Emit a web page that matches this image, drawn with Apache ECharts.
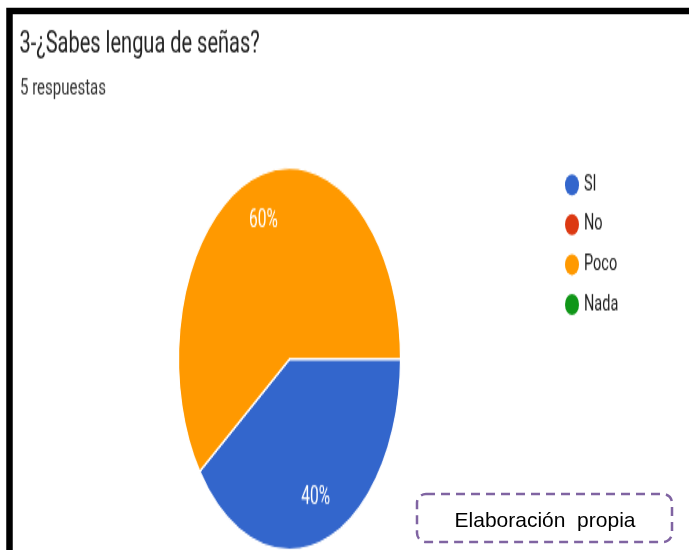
<!DOCTYPE html>
<html>
<head>
<meta charset="utf-8">
<script src="https://cdn.jsdelivr.net/npm/echarts@6/dist/echarts.min.js"></script>
<style>
    html, body { margin: 0; padding: 0; background: #fff; width: 689px; height: 550px; overflow: hidden; }
    .layer { position: absolute; left: 0; top: 0; width: 689px; transform-origin: 0 0; }
</style>
</head>
<body>
<div id="text" class="layer"></div>
<div id="pie" class="layer"></div>
<div id="note" class="layer" style="height: 550px;"></div>
<script>
    var categories = ['SI', 'No', 'Poco', 'Nada'];
    var answers = [2, 0, 3, 0];
    var colors = ['#3366cc', '#dc3912', '#ff9900', '#109618'];
    var title = '3-¿Sabes lengua de señas?';
    var subtitle = '5 respuestas';
    var source = 'Elaboración  propia';

    // the screenshot is stretched vertically: text by ~1.5, the pie by ~1.72
    var TEXT_STRETCH = 1.5;
    var PIE_STRETCH = 1.72;
    var FONT = 'Roboto, "Noto Sans", sans-serif';

    function stretch(id, k) {
        var el = document.getElementById(id);
        el.style.height = (550 / k) + 'px';
        el.style.transform = 'scaleY(' + k + ')';
        return el;
    }

    var pieData = categories.map(function(name, i) {
        return { name: name, value: answers[i] };
    });

    // title, subtitle and legend
    var textChart = echarts.init(stretch('text', TEXT_STRETCH));
    textChart.setOption({
        animation: false,
        color: colors,
        title: [{
            text: title,
            left: 19.5,
            top: 20,
            padding: 0,
            textStyle: { fontSize: 20, fontWeight: 'normal', color: '#212121', fontFamily: FONT }
        }, {
            text: subtitle,
            left: 20,
            top: 52,
            padding: 0,
            textStyle: { fontSize: 15, fontWeight: 'normal', color: '#333', fontFamily: FONT }
        }],
        legend: {
            orient: 'vertical',
            left: 565,
            top: 115.7,
            padding: 0,
            icon: 'circle',
            itemWidth: 14,
            itemHeight: 14,
            itemGap: 11.6,
            selectedMode: false,
            data: categories,
            textStyle: { fontSize: 14.5, color: '#212121', fontFamily: FONT }
        },
        // only feeds the legend, the visible pie is drawn in the other layer
        series: [{
            type: 'pie',
            radius: [0, 0],
            center: [289, 240],
            silent: true,
            label: { show: false },
            labelLine: { show: false },
            data: pieData
        }]
    });

    // the pie itself
    var pieChart = echarts.init(stretch('pie', PIE_STRETCH));
    var center = [289.5, 208.7];
    pieChart.setOption({
        animation: false,
        color: colors,
        series: [{
            type: 'pie',
            center: center,
            radius: [0, 111],
            startAngle: 0,
            clockwise: true,
            silent: true,
            label: { show: false },
            labelLine: { show: false },
            itemStyle: { borderColor: '#fff', borderWidth: 1.2 },
            data: pieData
        }, {
            // transparent ring so the percentages sit near the rim
            type: 'pie',
            center: center,
            radius: [52, 111],
            startAngle: 0,
            clockwise: true,
            silent: true,
            itemStyle: { color: 'transparent' },
            labelLine: { show: false },
            label: {
                show: true,
                position: 'inside',
                color: '#fff',
                fontSize: 15.5,
                fontFamily: FONT,
                formatter: function(p) {
                    return p.value ? Math.round(p.percent) + '%' : '';
                }
            },
            data: pieData
        }]
    });

    // frame and source note pasted on top of the screenshot
    var noteChart = echarts.init(document.getElementById('note'));
    noteChart.setOption({
        animation: false,
        graphic: [{
            type: 'rect',
            shape: { x: 9.5, y: 11, width: 720, height: 600 },
            style: { fill: 'none', stroke: '#000', lineWidth: 6.5 }
        }, {
            type: 'rect',
            shape: { x: 417, y: 494, width: 255, height: 48, r: 9 },
            style: { fill: '#fff', stroke: '#8064a2', lineWidth: 2.5, lineDash: [9, 6] }
        }, {
            type: 'text',
            x: 545,
            y: 521,
            style: {
                text: source,
                fill: '#000',
                fontSize: 21,
                fontFamily: '"Liberation Sans", Arial, sans-serif',
                align: 'center',
                verticalAlign: 'middle'
            }
        }]
    });
</script>
</body>
</html>
